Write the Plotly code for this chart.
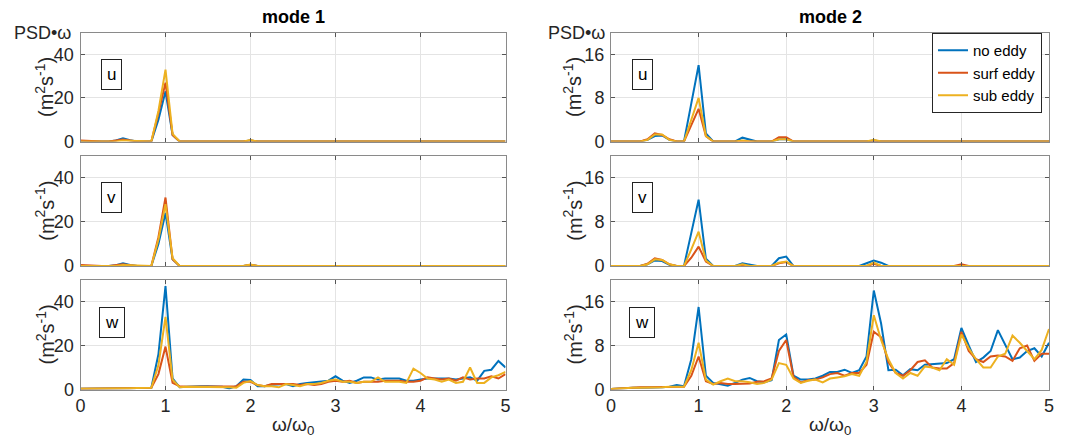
import numpy as np
import plotly.graph_objects as go

# frequency grid (omega/omega0), 61 samples from 0 to 5
freq = [i / 12 for i in range(61)]

series_names = ["no eddy", "surf eddy", "sub eddy"]
series_colors = ["#0072BD", "#D95319", "#EDB120"]

def sparse(d, n=61, base=0.0):
    a = [base] * n
    for k, v in d.items():
        a[k] = v
    return a

# ---- mode 1 ----
m1_u_no   = sparse({5: 0.5, 6: 1.5, 7: 0.6, 11: 10, 12: 23, 13: 3.0, 18: 0.3, 24: 0.5})
m1_u_surf = sparse({0: 0.5, 1: 0.3, 5: 0.4, 6: 0.9, 7: 0.5, 11: 13, 12: 27, 13: 3.0, 24: 0.5})
m1_u_sub  = sparse({6: 0.5, 7: 0.4, 11: 14, 12: 33, 13: 3.5, 18: 0.2, 24: 0.7})

m1_v_no   = sparse({5: 0.4, 6: 1.2, 7: 0.5, 11: 10, 12: 24, 13: 3.0, 18: 0.3, 24: 0.5})
m1_v_surf = sparse({0: 0.5, 1: 0.3, 5: 0.4, 6: 0.8, 7: 0.4, 11: 13, 12: 31, 13: 3.0, 24: 0.6})
m1_v_sub  = sparse({6: 0.5, 7: 0.4, 11: 12, 12: 28, 13: 3.5, 24: 0.7})

m1_w_no = [0.3, 0.3, 0.3, 0.3, 0.3, 0.4, 0.5, 0.6, 0.7, 0.8, 0.8, 16, 47, 5.0, 1.0,
           1.2, 1.5, 1.5, 1.5, 1.5, 1.2, 0.5, 1.5, 4.5, 4.3, 1.5, 1.5, 2.2, 2.5, 2.5,
           1.5, 2.5, 3.0, 3.3, 3.5, 4.0, 6.0, 4.0, 3.0, 4.0, 5.5, 5.5, 4.5, 5.0, 5.0,
           5.0, 4.0, 4.0, 4.5, 5.0, 5.0, 5.0, 5.0, 4.5, 5.0, 5.5, 4.0, 8.5, 9.0, 13.0, 10.0]
m1_w_surf = [0.3, 0.3, 0.3, 0.3, 0.4, 0.4, 0.5, 0.6, 0.7, 0.8, 0.8, 7, 19.5, 3.0, 1.5,
             1.3, 1.3, 1.5, 1.5, 1.3, 1.3, 1.5, 1.5, 3.5, 3.5, 2.0, 1.5, 2.5, 2.5, 2.5,
             2.5, 2.0, 2.5, 2.0, 2.5, 3.5, 4.0, 3.5, 4.0, 3.0, 3.5, 3.5, 3.5, 4.0, 4.0,
             4.0, 3.5, 3.5, 4.0, 5.5, 5.0, 4.5, 5.0, 4.0, 5.5, 4.5, 5.0, 5.0, 6.0, 5.0, 7.0]
m1_w_sub = [0.3, 0.3, 0.3, 0.3, 0.3, 0.4, 0.5, 0.6, 0.7, 0.8, 0.8, 11, 33, 4.5, 1.0,
            1.2, 1.2, 1.2, 1.2, 1.0, 1.0, 1.0, 0.8, 3.0, 3.8, 2.0, 1.5, 1.5, 1.0, 2.5,
            2.0, 1.5, 2.5, 2.5, 3.0, 4.0, 4.5, 3.5, 3.5, 3.0, 3.5, 3.5, 5.5, 3.5, 3.5,
            3.5, 3.0, 9.5, 7.5, 5.0, 4.5, 3.5, 4.5, 3.0, 3.5, 10.0, 3.0, 3.0, 5.5, 6.5, 8.0]

# ---- mode 2 ----
m2_u_no   = sparse({5: 0.3, 6: 1.0, 7: 1.1, 8: 0.3, 11: 7, 12: 14, 13: 1.5, 18: 0.7, 19: 0.4,
                    23: 0.4, 24: 0.4, 36: 0.2})
m2_u_surf = sparse({5: 0.4, 6: 1.5, 7: 1.2, 8: 0.4, 11: 3, 12: 6, 13: 1.0, 23: 0.8, 24: 0.8})
m2_u_sub  = sparse({5: 0.3, 6: 1.3, 7: 1.3, 8: 0.3, 11: 4, 12: 8, 13: 1.0, 18: 0.2, 23: 0.4,
                    24: 0.4, 36: 0.3})

m2_v_no   = sparse({5: 0.3, 6: 1.0, 7: 0.9, 8: 0.2, 11: 6, 12: 12, 13: 1.3, 18: 0.5, 19: 0.3,
                    23: 1.4, 24: 1.7, 35: 0.5, 36: 1.0, 37: 0.6})
m2_v_surf = sparse({5: 0.4, 6: 1.4, 7: 1.1, 8: 0.3, 11: 1.5, 12: 3.5, 13: 0.8, 23: 0.5, 24: 0.7,
                    36: 0.4, 48: 0.3})
m2_v_sub  = sparse({5: 0.3, 6: 1.2, 7: 1.1, 8: 0.3, 11: 3, 12: 6.2, 13: 1.0, 18: 0.3, 23: 0.6,
                    24: 0.8, 36: 0.6})

m2_w_no = [0.1, 0.2, 0.2, 0.3, 0.3, 0.3, 0.3, 0.4, 0.5, 0.8, 0.6, 5.5, 15, 2.5, 1.2,
           1.0, 0.7, 1.2, 1.8, 2.1, 1.5, 1.3, 1.7, 9.0, 10.0, 2.5, 1.8, 1.8, 2.0, 2.5,
           3.2, 3.2, 3.6, 3.0, 3.5, 6.0, 18.0, 12.0, 3.5, 3.6, 2.6, 3.7, 3.5, 4.5, 4.6,
           4.7, 4.8, 5.5, 11.2, 8.0, 5.0, 5.8, 7.0, 10.8, 8.0, 5.5, 5.8, 7.0, 7.5, 6.0, 8.5]
m2_w_surf = [0.1, 0.2, 0.3, 0.3, 0.4, 0.4, 0.4, 0.4, 0.5, 0.5, 0.5, 2.5, 6.0, 1.5, 1.0,
             1.2, 1.0, 1.0, 1.0, 1.1, 1.4, 1.5, 2.0, 7.0, 9.0, 2.3, 1.3, 1.7, 1.8, 2.2,
             2.8, 3.0, 2.5, 3.0, 3.0, 4.5, 10.5, 9.5, 5.0, 3.0, 2.5, 3.5, 5.0, 5.3, 4.0,
             3.8, 3.8, 4.8, 10.5, 7.0, 5.5, 5.0, 6.0, 6.2, 6.0, 5.2, 7.5, 8.0, 5.2, 6.5, 6.5]
m2_w_sub = [0.1, 0.2, 0.2, 0.3, 0.3, 0.3, 0.4, 0.4, 0.5, 0.5, 0.5, 3.5, 8.5, 1.8, 0.9,
            1.5, 2.0, 1.5, 1.5, 1.3, 1.0, 1.2, 1.8, 4.8, 4.5, 2.0, 1.2, 1.6, 1.8, 1.3,
            2.0, 2.2, 2.4, 2.8, 2.5, 5.0, 13.5, 9.0, 5.5, 3.0, 2.0, 3.0, 2.5, 4.2, 4.0,
            3.5, 5.5, 4.5, 10.0, 7.5, 5.5, 4.0, 4.0, 6.0, 6.5, 9.8, 8.5, 7.0, 5.5, 7.2, 11.0]

panels = [
    # (row, col, [series], label)
    (1, 1, [m1_u_no, m1_u_surf, m1_u_sub], "u"),
    (2, 1, [m1_v_no, m1_v_surf, m1_v_sub], "v"),
    (3, 1, [m1_w_no, m1_w_surf, m1_w_sub], "w"),
    (1, 2, [m2_u_no, m2_u_surf, m2_u_sub], "u"),
    (2, 2, [m2_v_no, m2_v_surf, m2_v_sub], "v"),
    (3, 2, [m2_w_no, m2_w_surf, m2_w_sub], "w"),
]

# The page body has an 8 px margin, so the figure starts at (8, 8) in the window.
OFF = 8
W, H = 1084 - OFF, 442 - OFF

def px_x(p):
    return (p - OFF) / W

def px_y(p):
    return 1 - (p - OFF) / H

col_px = {1: (80.5, 505.5), 2: (611, 1049)}
row_px = {1: (32.5, 141.5), 2: (155.5, 266), 3: (279.5, 389.5)}
y_ranges = {1: [0, 50], 2: [0, 20]}
y_ticks = {1: [0, 20, 40], 2: [0, 8, 16]}

FONT = "Liberation Sans, Arial, Helvetica, sans-serif"
TXT = "#262626"

fig = go.Figure()
layout = dict(
    width=W, height=H,
    margin=dict(l=0, r=0, t=0, b=0, pad=0, autoexpand=False),
    paper_bgcolor="white", plot_bgcolor="white",
    font=dict(family=FONT, size=18, color=TXT),
    showlegend=True,
)
annotations = []

for idx, (r, c, ser, lab) in enumerate(panels):
    n = idx + 1
    xa = "x" if n == 1 else f"x{n}"
    ya = "y" if n == 1 else f"y{n}"
    for k in range(3):
        fig.add_trace(go.Scatter(
            x=freq, y=ser[k], mode="lines", xaxis=xa, yaxis=ya,
            name=series_names[k],
            line=dict(color=series_colors[k], width=2),
            showlegend=(n == 4),
            cliponaxis=True,
        ))
    x0, x1 = col_px[c]
    y0, y1 = row_px[r]
    common = dict(
        showline=True, linecolor="#8a8a8a", linewidth=1, mirror="allticks",
        ticks="inside", ticklen=4, tickcolor="#555555", tickwidth=1,
        showgrid=True, gridcolor="#e4e4e4", gridwidth=1, zeroline=False,
        tickfont=dict(family=FONT, size=18, color=TXT), automargin=False,
    )
    layout["xaxis" if n == 1 else f"xaxis{n}"] = dict(
        common, domain=[px_x(x0), px_x(x1)], range=[0, 5],
        tickvals=[0, 1, 2, 3, 4, 5], showticklabels=(r == 3),
        anchor=ya,
    )
    layout["yaxis" if n == 1 else f"yaxis{n}"] = dict(
        common, domain=[px_y(y1), px_y(y0)], range=y_ranges[c],
        tickvals=y_ticks[c], anchor=xa, ticklabelstandoff=2,
    )
    # label box
    by_centre = y0 + (41.5 if r < 3 else 42.5)
    annotations.append(dict(
        text=lab, x=px_x(x0 + 31), y=px_y(by_centre), xref="paper", yref="paper",
        showarrow=False, font=dict(family=FONT, size=17, color="black"),
        bordercolor="#222222", borderwidth=1, borderpad=5, bgcolor="white",
        xanchor="center", yanchor="middle",
    ))
    # y axis title
    ty_x = 45 if c == 1 else 573
    annotations.append(dict(
        text="(m<sup>2</sup>s<sup>-1</sup>)", x=px_x(ty_x), y=px_y((y0 + y1) / 2),
        xref="paper", yref="paper", showarrow=False, textangle=-90,
        font=dict(family=FONT, size=20, color=TXT),
        xanchor="center", yanchor="middle",
    ))

# PSD labels
for px in (42.5, 576):
    annotations.append(dict(
        text="PSD•ω", x=px_x(px), y=px_y(33), xref="paper", yref="paper",
        showarrow=False, font=dict(family=FONT, size=18, color=TXT),
        xanchor="center", yanchor="middle",
    ))
# titles
for c, t in ((1, "mode 1"), (2, "mode 2")):
    x0, x1 = col_px[c]
    annotations.append(dict(
        text=f"<b>{t}</b>", x=px_x((x0 + x1) / 2), y=px_y(17), xref="paper", yref="paper",
        showarrow=False, font=dict(family=FONT, size=18, color="black"),
        xanchor="center", yanchor="middle",
    ))
    annotations.append(dict(
        text="ω/ω<sub>0</sub>", x=px_x((x0 + x1) / 2), y=px_y(426), xref="paper", yref="paper",
        showarrow=False, font=dict(family=FONT, size=19, color=TXT),
        xanchor="center", yanchor="middle",
    ))

layout["annotations"] = annotations
layout["legend"] = dict(
    x=px_x(1042), y=px_y(33), xanchor="right", yanchor="top",
    bgcolor="white", bordercolor="#262626", borderwidth=1,
    font=dict(family=FONT, size=15, color="black"),
    tracegroupgap=0, itemwidth=30,
)
fig.update_layout(**layout)
fig.write_html("out.html")
